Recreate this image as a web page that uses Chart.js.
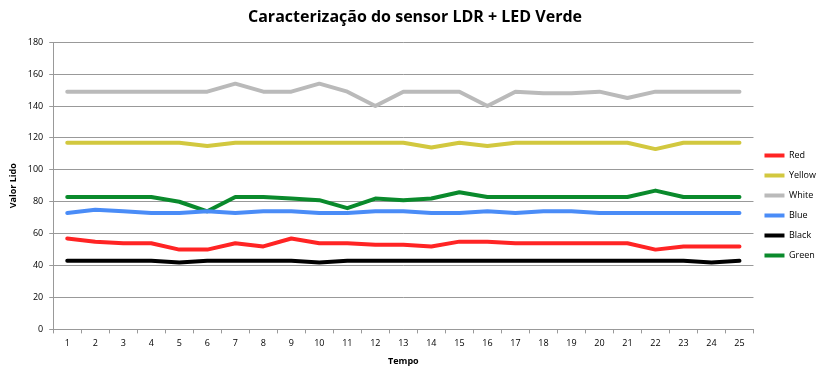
<!DOCTYPE html>
<html lang="pt">
<head>
<meta charset="UTF-8">
<title>Caracterização do sensor LDR + LED Verde</title>
<script src="https://cdn.jsdelivr.net/npm/chart.js"></script>
<style>
    body { margin: 0; background: #fff; }
    #wrap { width: 828px; height: 375px; }
</style>
</head>
<body>
<div id="wrap"><canvas id="ldrChart"></canvas></div>
<script>
    const tempo = ['1','2','3','4','5','6','7','8','9','10','11','12','13','14','15','16','17','18','19','20','21','22','23','24','25'];

    const red    = [57, 55, 54, 54, 50, 50, 54, 52, 57, 54, 54, 53, 53, 52, 55, 55, 54, 54, 54, 54, 54, 50, 52, 52, 52];
    const yellow = [117, 117, 117, 117, 117, 115, 117, 117, 117, 117, 117, 117, 117, 114, 117, 115, 117, 117, 117, 117, 117, 113, 117, 117, 117];
    const white  = [149, 149, 149, 149, 149, 149, 154, 149, 149, 154, 149, 140, 149, 149, 149, 140, 149, 148, 148, 149, 145, 149, 149, 149, 149];
    const blue   = [73, 75, 74, 73, 73, 74, 73, 74, 74, 73, 73, 74, 74, 73, 73, 74, 73, 74, 74, 73, 73, 73, 73, 73, 73];
    const black  = [43, 43, 43, 43, 42, 43, 43, 43, 43, 42, 43, 43, 43, 43, 43, 43, 43, 43, 43, 43, 43, 43, 43, 42, 43];
    const green  = [83, 83, 83, 83, 80, 74, 83, 83, 82, 81, 76, 82, 81, 82, 86, 83, 83, 83, 83, 83, 83, 87, 83, 83, 83];

    const yTicks = [0, 20, 40, 60, 80, 100, 120, 140, 160, 180];

    function serie(label, values, color) {
        return {
            label: label,
            data: values,
            borderColor: color,
            backgroundColor: color,
            borderWidth: 4,
            borderCapStyle: 'round',
            borderJoinStyle: 'round',
            pointRadius: 0,
            pointHoverRadius: 0,
            tension: 0,
            fill: false
        };
    }

    const fonte = 'Open Sans, "Liberation Sans", Arial, sans-serif';

    new Chart(document.getElementById('ldrChart'), {
        type: 'line',
        data: {
            labels: tempo,
            datasets: [
                serie('Red', red, '#ff2424'),
                serie('Yellow', yellow, '#d2c83f'),
                serie('White', white, '#bababa'),
                serie('Blue', blue, '#4a8cf7'),
                serie('Black', black, '#000000'),
                serie('Green', green, '#0a8a2c')
            ]
        },
        options: {
            responsive: true,
            maintainAspectRatio: false,
            animation: false,
            layout: { padding: { left: 4, right: 2, top: 4, bottom: 4 } },
            plugins: {
                title: {
                    display: true,
                    text: 'Caracterização do sensor LDR + LED Verde',
                    color: '#000',
                    font: { family: fonte, size: 16, weight: 'bold' },
                    padding: { top: 4, bottom: 15 }
                },
                legend: {
                    position: 'right',
                    title: { display: true, text: ' ', font: { size: 10 }, padding: { top: 0, bottom: 24 } },
                    labels: {
                        usePointStyle: true,
                        pointStyle: 'line',
                        pointStyleWidth: 20,
                        boxHeight: 8,
                        padding: 11,
                        color: '#000',
                        font: { family: fonte, size: 9 }
                    }
                },
                tooltip: { enabled: false }
            },
            scales: {
                x: {
                    offset: true,
                    grid: {
                        offset: true,
                        drawOnChartArea: false,
                        drawTicks: true,
                        tickLength: 4,
                        color: '#999'
                    },
                    border: { color: '#999' },
                    ticks: { color: '#000', font: { family: fonte, size: 9 }, maxRotation: 0, padding: 5 },
                    title: {
                        display: true,
                        text: 'Tempo',
                        color: '#000',
                        font: { family: fonte, size: 9, weight: 'bold' },
                        padding: { top: 2 }
                    }
                },
                y: {
                    min: 0,
                    max: 180,
                    afterBuildTicks: function (axis) {
                        axis.ticks = yTicks.map(v => ({ value: v }));
                    },
                    grid: { color: '#999', tickLength: 4 },
                    border: { color: '#999' },
                    ticks: { color: '#000', font: { family: fonte, size: 9 }, padding: 6 },
                    title: {
                        display: true,
                        text: 'Valor Lido',
                        color: '#000',
                        font: { family: fonte, size: 9, weight: 'bold' },
                        padding: { bottom: 3 }
                    }
                }
            }
        }
    });
</script>
</body>
</html>
